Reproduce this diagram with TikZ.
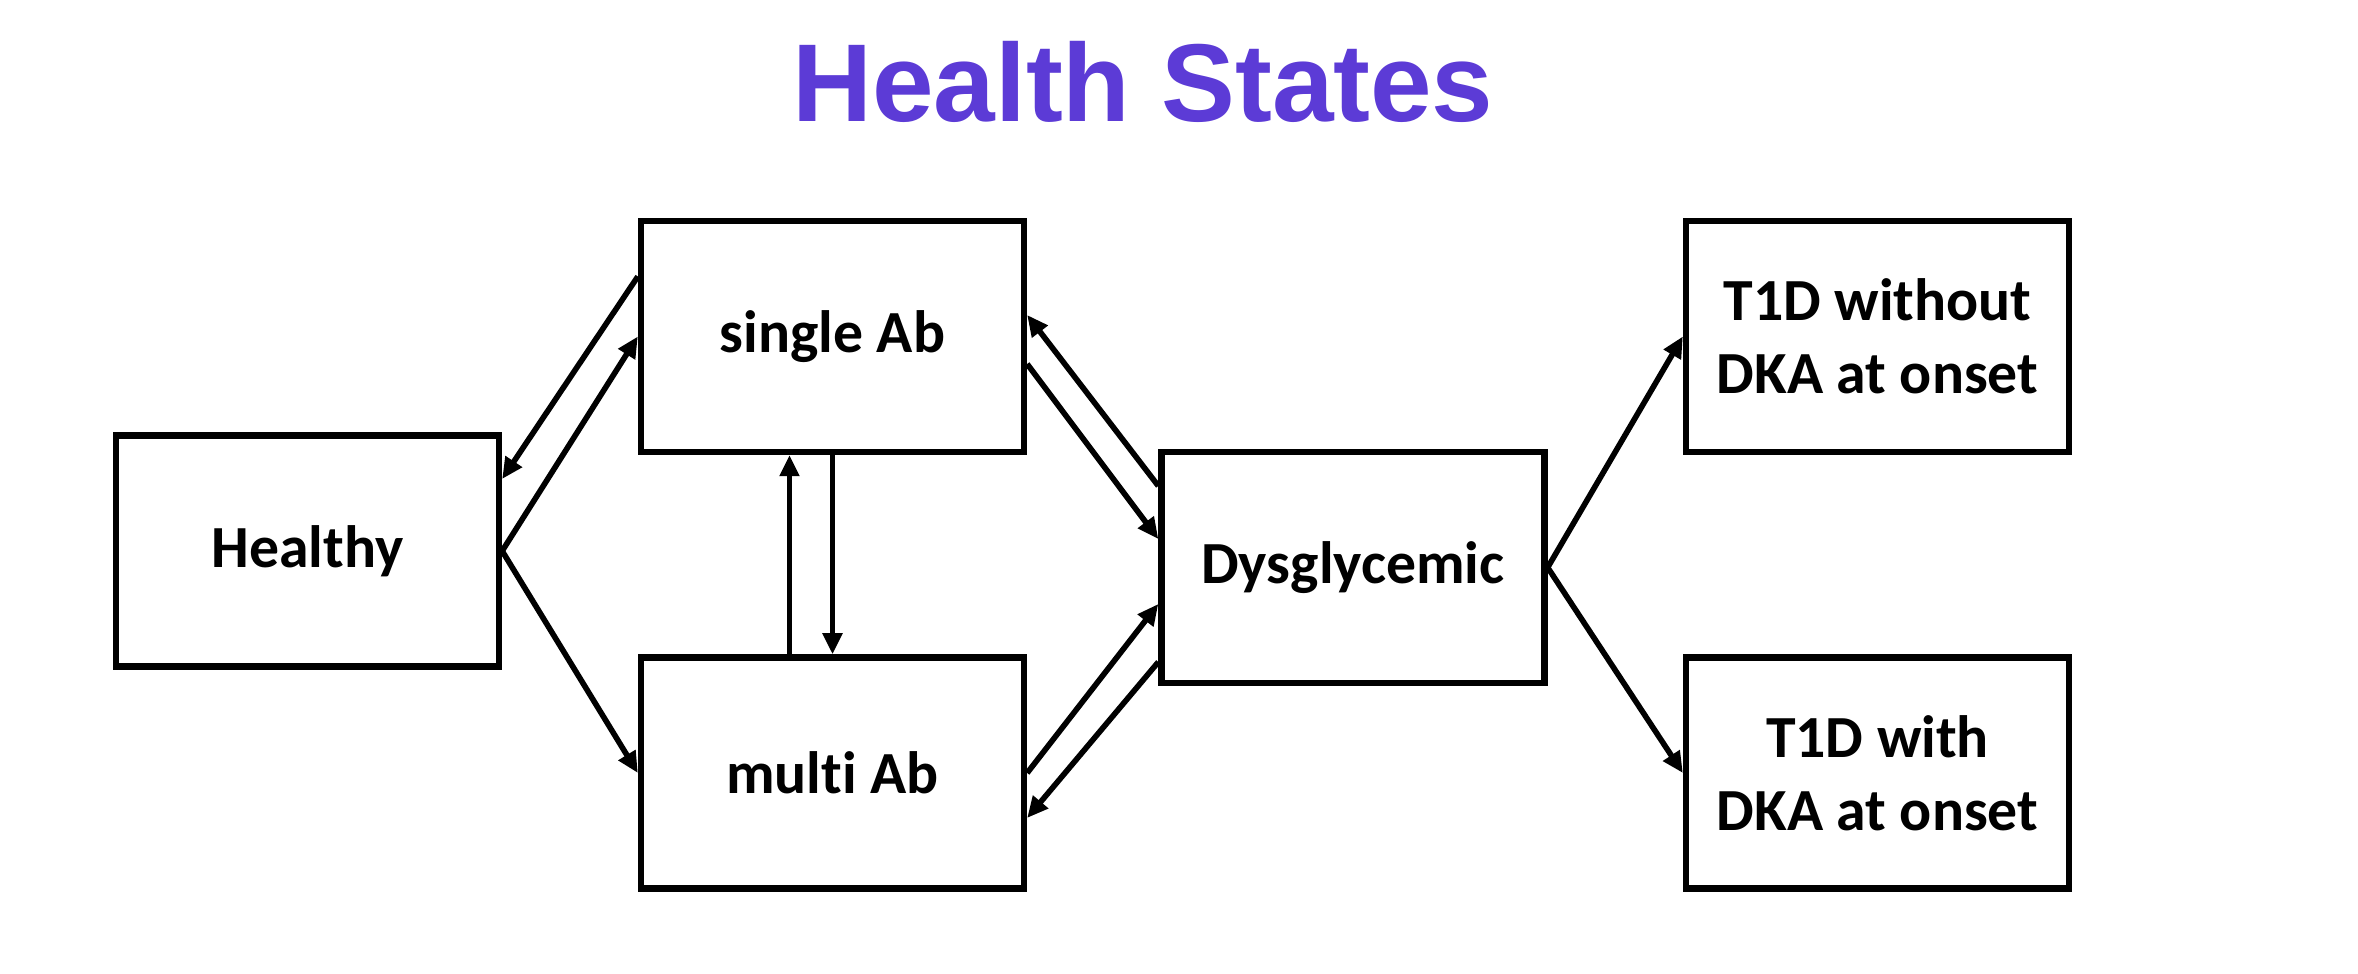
\documentclass[tikz,border=0pt]{standalone}
\usepackage{fontspec}
\setmainfont[Ligatures=CommonOff]{Carlito}
\newfontfamily\titlefont{Liberation Sans}
\usetikzlibrary{arrows.meta}
\definecolor{titleviolet}{RGB}{92,59,214}

\begin{document}
\begin{tikzpicture}[>={Triangle[length=6pt, width=5.4pt]},
    state/.style={draw, line width=1.8pt, minimum width=3.83cm, minimum height=2.31cm, align=center, font=\fontsize{17}{20.7}\selectfont\bfseries},
    link/.style={->, line width=1.6pt}]

    \useasboundingbox (0, 0) rectangle (23.58, 9.74);

    % 标题
    \node[anchor=base, text=titleviolet, font=\titlefont\fontsize{31.5}{36}\selectfont\bfseries] (title) at (11.43, 8.52) {Health States};

    % 六个状态
    \node[state] (healthy) at (3.075, 4.23) {Healthy};
    \node[state] (single) at (8.325, 6.375) {single Ab};
    \node[state] (multi) at (8.325, 2.01) {multi Ab};
    \node[state] (dysgly) at (13.53, 4.065) {Dysglycemic};
    \node[state] (nodka) at (18.775, 6.375) {T1D without\\DKA at onset};
    \node[state] (withdka) at (18.775, 2.01) {T1D with\\DKA at onset};

    % 箭头
    \draw[link] (healthy.east) -- (single.west);
    \draw[link] ([yshift=0.6cm]single.west) -- ([yshift=0.72cm]healthy.east);
    \draw[link] (healthy.east) -- (multi.west);
    \draw[link] ([xshift=-0.43cm]multi.north) -- ([xshift=-0.43cm]single.south);
    \draw[link] (single.south) -- (multi.north);
    \draw[link] ([yshift=-0.275cm]single.east) -- ([yshift=0.285cm]dysgly.west);
    \draw[link] ([yshift=0.815cm]dysgly.west) -- ([yshift=0.215cm]single.east);
    \draw[link] (multi.east) -- ([yshift=-0.365cm]dysgly.west);
    \draw[link] ([yshift=-0.945cm]dysgly.west) -- ([yshift=-0.45cm]multi.east);
    \draw[link] (dysgly.east) -- (nodka.west);
    \draw[link] (dysgly.east) -- (withdka.west);

\end{tikzpicture}
\end{document}
